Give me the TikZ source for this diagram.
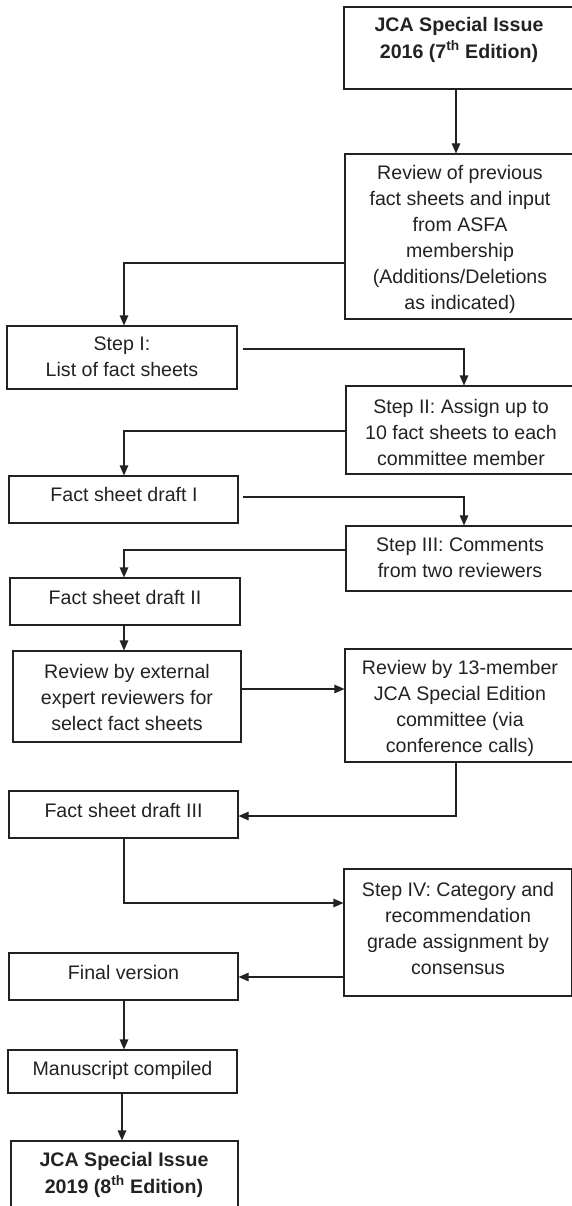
\documentclass[tikz,border=0pt]{standalone}
\usepackage{fontspec}
\setmainfont{Liberation Sans}
\usetikzlibrary{arrows.meta,fit}
\definecolor{ink}{HTML}{222222}
\begin{document}
\begin{tikzpicture}[x=1pt,y=-1pt,
  box/.style={draw=ink, line width=1.1pt, inner sep=0pt},
  txt/.style={text=ink, align=center, inner sep=0pt, font=\fontsize{19.6}{26}\selectfont},
  btxt/.style={text=ink, align=center, inner sep=0pt, font=\fontsize{19.6}{26.5}\selectfont\bfseries},
  conn/.style={draw=ink, line width=1.1pt},
  arr/.style={conn, -{Triangle[length=10pt,width=8.5pt]}}]
\useasboundingbox (0,0) rectangle (572,1206);

% boxes
\node[box, fit={(344,7) (574,89)}] (top) {};
\node[box, fit={(345,154) (574,319)}] (rev) {};
\node[box, fit={(7,326) (237,389)}] (s1) {};
\node[box, fit={(346,386) (574,474)}] (s2) {};
\node[box, fit={(9,476) (238,523)}] (d1) {};
\node[box, fit={(346,526) (574,591)}] (s3) {};
\node[box, fit={(10,578) (240,625)}] (d2) {};
\node[box, fit={(13,651) (241,742)}] (ext) {};
\node[box, fit={(345,649) (574,762)}] (r13) {};
\node[box, fit={(9,791) (238,838)}] (d3) {};
\node[box, fit={(344,869) (571.5,996)}] (s4) {};
\node[box, fit={(9,953) (238,1000)}] (fin) {};
\node[box, fit={(8,1050) (237,1093)}] (man) {};
\node[box, fit={(11,1141) (238,1222)}] (end) {};

% texts
\node[btxt] (ttop) at (459,40) {JCA Special Issue\\2016 (7\textsuperscript{th} Edition)};
\node[txt] (trev) at (460,239) {Review of previous\\fact sheets and input\\from ASFA\\membership\\(Additions/Deletions\\as indicated)};
\node[txt] (ts1) at (122,357) {Step I:\\List of fact sheets};
\node[txt] (ts2) at (461,432) {Step II: Assign up to\\10 fact sheets to each\\committee member};
\node[txt] (td1) at (124,494) {Fact sheet draft I};
\node[txt] (ts3) at (460,558) {Step III: Comments\\from two reviewers};
\node[txt] (td2) at (125,597) {Fact sheet draft II};
\node[txt] (text) at (127,697) {Review by external\\expert reviewers for\\select fact sheets};
\node[txt] (tr13) at (460,708) {Review by 13-member\\JCA Special Edition\\committee (via\\conference calls)};
\node[txt] (td3) at (123.5,810) {Fact sheet draft III};
\node[txt] (ts4) at (458,928) {Step IV: Category and\\recommendation\\grade assignment by\\consensus};
\node[txt] (tfin) at (123.5,972) {Final version};
\node[txt] (tman) at (122.5,1070) {Manuscript compiled};
\node[btxt] (tend) at (124,1175) {JCA Special Issue\\2019 (8\textsuperscript{th} Edition)};

% bend coordinates
\coordinate (b2) at (124,263);
\coordinate (b3) at (242,349);
\coordinate (b4) at (124,431);
\coordinate (b5) at (242,497);
\coordinate (b6) at (124,550);
\coordinate (b8) at (0,689);
\coordinate (b9) at (456,816);
\coordinate (b10) at (124,903);
\coordinate (b11) at (0,977);
\coordinate (b13) at (122,0);

% connectors
\draw[arr] ([xshift=-3pt]top.south) -- ([xshift=-3pt]top.south |- rev.north);
\draw[arr] (rev.west |- b2) -| (s1.north -| b2);
\draw[arr] ([xshift=5pt]s1.east |- b3) -| ([xshift=4pt]s2.north);
\draw[arr] (s2.west |- b4) -| (d1.north -| b4);
\draw[arr] ([xshift=4pt]d1.east |- b5) -| ([xshift=4pt]s3.north);
\draw[arr] (s3.west |- b6) -| (d2.north -| b6);
\draw[arr] (d2.south -| b6) -- (ext.north -| b6);
\draw[arr] (ext.east |- b8) -- (r13.west |- b8);
\draw[arr] (r13.south -| b9) |- (d3.east |- b9);
\draw[arr] (d3.south -| b10) |- (s4.west |- b10);
\draw[arr] (s4.west |- b11) -- (fin.east |- b11);
\draw[arr] (fin.south -| b10) -- (man.north -| b10);
\draw[arr] (man.south -| b13) -- (end.north -| b13);
\end{tikzpicture}
\end{document}
